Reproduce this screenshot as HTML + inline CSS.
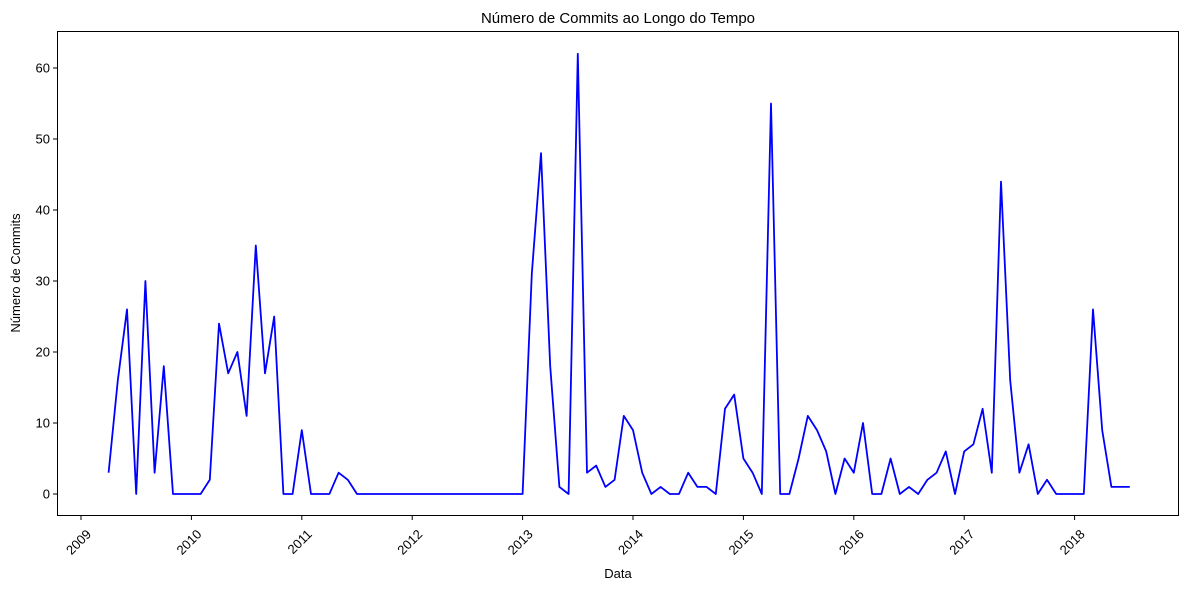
<!DOCTYPE html>
<html><head><meta charset="utf-8"><style>
body{margin:0;background:#fff;}
svg{display:block;font-family:"Liberation Sans","DejaVu Sans",sans-serif;}
</style></head><body>
<svg id="chart" width="1189" height="590">
<text x="618" y="23" font-size="15" text-anchor="middle">Número de Commits ao Longo do Tempo</text>
<text x="618" y="578" font-size="13" text-anchor="middle">Data</text>
<text x="20" y="273" font-size="13" text-anchor="middle" transform="rotate(-90 20 273)">Número de Commits</text>
<g id="axes"></g>
<rect x="57.5" y="31.5" width="1121" height="484" fill="none" stroke="#000" stroke-width="1"/>
</svg>
<script>
const startYear = 2009, startMonth = 4;
const commits = [3,16,26,0,30,3,18,0,0,
0,0,2,24,17,20,11,35,17,25,0,0,
9,0,0,0,3,2,0,0,0,0,0,0,
0,0,0,0,0,0,0,0,0,0,0,0,
0,31,48,18,1,0,62,3,4,1,2,11,
9,3,0,1,0,0,3,1,1,0,12,14,
5,3,0,55,0,0,5,11,9,6,0,5,
3,10,0,0,5,0,1,0,2,3,6,0,
6,7,12,3,44,16,3,7,0,2,0,0,
0,0,26,9,1,1,1];
const yTicks = [0,10,20,30,40,50,60];
const xTicks = [2009,2010,2011,2012,2013,2014,2015,2016,2017,2018];
const ns = "http://www.w3.org/2000/svg";
const g = document.getElementById('axes');
function xs(t){return 81 + (t-2009)*110.4;}
function ys(v){return 494 - v*7.1;}
function mk(tag, attrs){const e=document.createElementNS(ns,tag);for(const k in attrs)e.setAttribute(k,attrs[k]);g.appendChild(e);return e;}
yTicks.forEach(v=>{
  const y=ys(v);
  const l=mk('line',{x1:53,x2:57,y1:y,y2:y,stroke:'#000'});
  
  
  const t=mk('text',{x:50,y:y+4.5,'font-size':13,'text-anchor':'end'});
  t.textContent=v;
  
  
});
xTicks.forEach(yr=>{
  const x=xs(yr);
  const l=mk('line',{x1:x,x2:x,y1:516,y2:520,stroke:'#000'});
  
  
  const ax=x+11, ay=535;
  const t=mk('text',{x:ax,y:ay,'font-size':13,'text-anchor':'end',transform:`rotate(-45 ${ax} ${ay})`});
  t.textContent=yr;
  
  
});
const pts=commits.map((v,i)=>{const m=startMonth-1+i;const t=startYear+Math.floor(m/12)+(m%12)/12;return xs(t).toFixed(1)+','+ys(v).toFixed(1);});
const line=mk('polyline',{points:pts.join(' '),fill:'none',stroke:'#0000ff','stroke-width':1.8,'stroke-linejoin':'round'});


</script>
</body></html>
